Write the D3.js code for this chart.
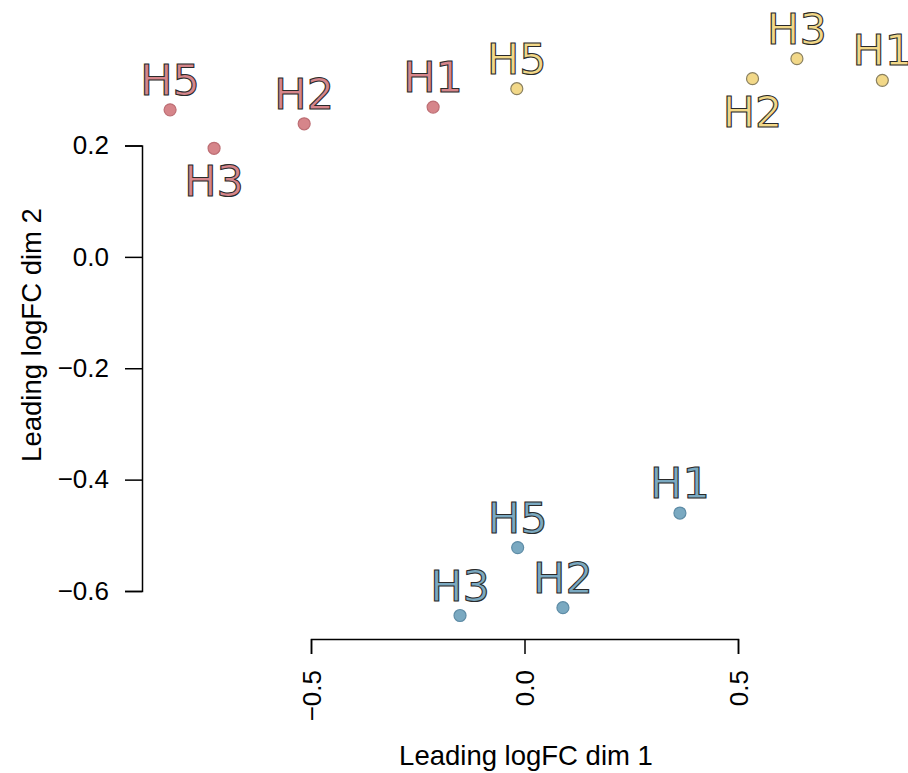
<!DOCTYPE html>
<html>
<head>
<meta charset="utf-8">
<script src="https://cdn.jsdelivr.net/npm/d3@7"></script>
<style>
  body { margin: 0; background: #fff; }
  svg { display: block; }
  .axis text { font-family: "Liberation Sans", Arial, sans-serif; font-size: 26px; fill: #000; }
  .axis path, .axis line { stroke: #000; stroke-width: 1.5px; }
</style>
</head>
<body>
<div id="chart"></div>
<script>
// MDS plot data (leading logFC dims)
const sampleLabels = ["H5", "H3", "H2", "H1", "H5", "H2", "H3", "H1", "H1", "H5", "H2", "H3"];
const sampleGroups = ["g1", "g1", "g1", "g1", "g2", "g2", "g2", "g2", "g3", "g3", "g3", "g3"];
const dim1 = [-0.830, -0.727, -0.516, -0.214, -0.018, 0.534, 0.638, 0.838, 0.364, -0.016, 0.090, -0.151];
const dim2 = [0.264, 0.195, 0.239, 0.269, 0.302, 0.320, 0.356, 0.317, -0.460, -0.522, -0.630, -0.644];
// which labels sit under their point
const labelBelow = [false, true, false, false, false, true, false, false, false, false, false, false];

const xTicks = [-0.5, 0.0, 0.5];
const yTicks = [0.2, 0.0, -0.2, -0.4, -0.6];

const groupFill = { g1: "#d6858a", g2: "#f2d888", g3: "#7aa9c1" };
const groupStroke = { g1: "#bd6e74", g2: "#8a8060", g3: "#5e8ca6" };

const width = 908, height = 773;

const svg = d3.select("#chart").append("svg")
    .attr("width", width)
    .attr("height", height);

// escalas: el eje se dibuja solo entre el primer y ultimo tick (estilo R)
const x = d3.scaleLinear().domain([-0.5, 0.5]).range([311, 738]);
const y = d3.scaleLinear().domain([-0.6, 0.2]).range([591, 145.5]);

const fmt = d3.format(".1f");
const minus = s => s.replace("-", "\u2212");

const xAxis = svg.append("g")
    .attr("class", "axis")
    .attr("transform", "translate(0,639)")
    .call(d3.axisBottom(x).tickValues(xTicks).tickSize(15).tickPadding(0)
        .tickFormat(d => minus(fmt(d))));
xAxis.selectAll("text")
    .attr("transform", "translate(0,31) rotate(-90)")
    .attr("x", 0)
    .attr("y", 0)
    .attr("dy", "0.35em")
    .style("text-anchor", "end");

svg.append("g")
    .attr("class", "axis")
    .attr("transform", "translate(142,0)")
    .call(d3.axisLeft(y).tickValues(yTicks).tickSize(17).tickPadding(16)
        .tickFormat(d => minus(fmt(d))));

svg.selectAll(".axis .domain").attr("fill", "none");

// titulos de los ejes
svg.append("text")
    .attr("x", 526)
    .attr("y", 765)
    .attr("text-anchor", "middle")
    .style("font-family", "Liberation Sans, Arial, sans-serif")
    .style("font-size", "27.5px")
    .text("Leading logFC dim 1");

svg.append("text")
    .attr("transform", "translate(41,335) rotate(-90)")
    .attr("text-anchor", "middle")
    .style("font-family", "Liberation Sans, Arial, sans-serif")
    .style("font-size", "27.5px")
    .text("Leading logFC dim 2");

const data = sampleLabels.map((lab, i) => ({
    label: lab, group: sampleGroups[i], d1: dim1[i], d2: dim2[i], below: labelBelow[i]
}));

// puntos
svg.selectAll("circle.pt")
    .data(data)
    .enter()
    .append("circle")
    .attr("class", "pt")
    .attr("cx", d => x(d.d1))
    .attr("cy", d => y(d.d2))
    .attr("r", 6)
    .attr("fill", d => groupFill[d.group])
    .attr("stroke", d => groupStroke[d.group])
    .attr("stroke-width", 1.2);

// etiquetas con contorno oscuro
svg.selectAll("text.lab")
    .data(data)
    .enter()
    .append("text")
    .attr("class", "lab")
    .attr("x", d => x(d.d1))
    .attr("y", d => y(d.d2) + (d.below ? 48 : -15))
    .attr("text-anchor", "middle")
    .style("font-family", "DejaVu Sans, sans-serif")
    .style("font-size", "43px")
    .attr("fill", d => groupFill[d.group])
    .attr("stroke", "#2a2a2a")
    .attr("stroke-width", 1.1)
    .text(d => d.label);
</script>
</body>
</html>
